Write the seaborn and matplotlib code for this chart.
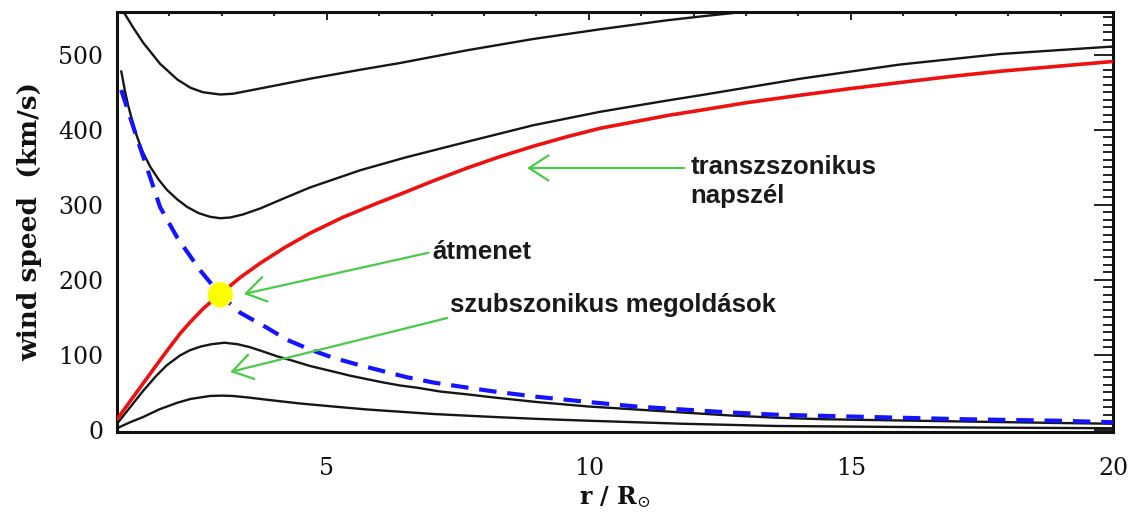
import numpy as np
import pandas as pd
import matplotlib
matplotlib.use("Agg")
import matplotlib.pyplot as plt
from matplotlib.ticker import MultipleLocator
import seaborn as sns

# ---- data (r in solar radii, v in km/s) ----
r_top = [1.10, 1.31, 1.50, 1.82, 2.15, 2.40, 2.64, 2.97, 3.21, 3.73, 4.68, 5.64,
         6.40, 7.68, 8.94, 10.22, 11.50, 12.13, 12.80, 13.10]
v_top = [560, 536, 516, 488, 467, 456, 450, 447, 448, 455, 468, 480,
         489, 506, 521, 534, 546, 551, 556, 558]

r_fast = [1.08, 1.10, 1.15, 1.21, 1.34, 1.48, 1.63, 1.80, 1.95, 2.15, 2.34, 2.55,
          2.77, 2.97, 3.16, 3.40, 3.73, 4.20, 4.68, 5.64, 6.50, 7.68, 8.94, 10.22,
          11.50, 12.13, 14.03, 15.94, 17.85, 20.0]
v_fast = [478, 471, 452, 433, 399, 372, 351, 333, 320, 307, 297, 289,
          284, 282, 283, 287, 295, 309, 323, 346, 363, 384, 406, 424,
          439, 446, 468, 487, 501, 511]

r_trans = [1.0, 1.25, 1.50, 1.75, 1.95, 2.20, 2.39, 2.65, 2.97, 3.35, 3.73, 4.20,
           4.68, 5.30, 5.96, 6.40, 7.04, 7.68, 8.30, 8.94, 9.60, 10.22, 10.90,
           11.50, 12.13, 13.00, 14.03, 15.00, 15.94, 16.90, 17.85, 19.00, 20.0]
v_trans = [14, 38, 62, 86, 105, 128, 143, 162, 181, 203, 222, 243,
           262, 283, 302, 314, 332, 349, 364, 378, 391, 402, 411,
           419, 426, 436, 446, 455, 463, 471, 478, 485, 491]

r_acc = [1.08, 1.38, 1.63, 1.82, 2.15, 2.58, 2.97, 3.35, 3.86, 4.24, 4.68, 5.12,
         5.58, 6.08, 6.53, 7.03, 7.60, 8.19, 9.00, 9.99, 10.90, 11.78, 12.70,
         13.58, 15.35, 17.15, 18.94, 20.0]
v_acc = [453, 389, 337, 297, 256, 213, 180, 156, 136, 120, 107, 96,
         87, 78, 70, 63, 57, 51, 44, 37, 31, 27, 23,
         20, 17, 14, 12, 10]

r_sub1 = [1.0, 1.25, 1.50, 1.75, 1.95, 2.20, 2.39, 2.60, 2.80, 3.05, 3.30, 3.54,
          3.80, 4.05, 4.40, 4.68, 5.10, 5.45, 5.80, 6.08, 6.40, 6.73, 7.16, 7.70,
          8.19, 9.00, 9.99, 10.90, 11.78, 12.70, 13.58, 14.50, 15.35, 17.15,
          18.94, 20.0]
v_sub1 = [8, 30, 52, 72, 86, 99, 106, 111, 114, 116, 114, 110,
          104, 98, 91, 85, 78, 72, 67, 63, 59, 56, 51, 47,
          43, 37, 31, 27, 23, 19, 16, 14, 13, 11,
          9, 8]

r_sub2 = [1.0, 1.25, 1.50, 1.80, 2.15, 2.40, 2.77, 3.00, 3.21, 3.50, 3.86, 4.49,
          5.12, 5.77, 6.40, 7.03, 7.60, 8.19, 9.00, 9.99, 11.78, 13.58, 15.35,
          17.15, 20.0]
v_sub2 = [2, 10, 17, 27, 36, 41, 45, 45.5, 45, 43, 40, 35,
          31, 27, 24, 21, 19, 17, 14.5, 12, 8, 5, 4,
          3, 2]

crit_r = [2.97]
crit_v = [180]

x_label = "r / R$_{\\odot}$"
y_label = "wind speed  (km/s)"
lbl_trans = "transzszonikus\nnapszél"
lbl_crit = "átmenet"
lbl_sub = "szubszonikus megoldások"

# ---- style ----
sns.set_style("white")
plt.rcParams["font.family"] = ["DejaVu Serif"]
plt.rcParams["mathtext.fontset"] = "dejavuserif"

fig = plt.figure(figsize=(11.34, 5.15), dpi=100)
ax = fig.add_axes([0.1032, 0.1612, 0.8783, 0.8155])

black = "#161616"
common = dict(ax=ax, estimator=None, sort=False, legend=False)
for rr, vv in [(r_top, v_top), (r_fast, v_fast), (r_sub1, v_sub1), (r_sub2, v_sub2)]:
    sns.lineplot(x=rr, y=vv, color=black, lw=1.7, zorder=2, **common)

sns.lineplot(x=r_acc, y=v_acc, color="#1414ff", lw=3.0, zorder=3, **common)
ax.lines[-1].set_dashes((4.2, 2.6))
sns.lineplot(x=r_trans, y=v_trans, color="#ee1111", lw=2.6, zorder=4, **common)
for ln in ax.lines:
    ln.set_solid_joinstyle("round")
    ln.set_solid_capstyle("round")
sns.scatterplot(x=crit_r, y=crit_v, color="#ffff00", s=330, edgecolor="none",
                zorder=5, ax=ax, legend=False)

ax.set_xlim(1, 20)
ax.set_ylim(-3, 557)

ax.xaxis.set_major_locator(MultipleLocator(5))
ax.xaxis.set_minor_locator(MultipleLocator(1))
ax.yaxis.set_major_locator(MultipleLocator(100))
ax.yaxis.set_minor_locator(MultipleLocator(10))

ax.tick_params(axis="both", which="both", direction="in", top=True, right=True,
               colors="#111111", width=1.3)
ax.tick_params(axis="y", which="major", length=14, pad=10, labelsize=17)
ax.tick_params(axis="y", which="minor", length=7)
ax.tick_params(axis="x", which="major", length=6, pad=18, labelsize=17)
ax.tick_params(axis="x", which="minor", length=3)

for s in ax.spines.values():
    s.set_linewidth(2.2)
    s.set_color("#111111")

ax.set_xlabel(x_label, fontsize=17, fontweight="bold", labelpad=3, color="#111111")
ax.set_ylabel(y_label, fontsize=19, fontweight="bold", labelpad=11, color="#111111")

# ---- annotations ----
tkw = dict(fontfamily="Liberation Sans", fontweight="bold", fontsize=18.5,
           color="#1a1a1a", va="center", ha="left")
ax.text(11.94, 331, lbl_trans, linespacing=1.25, **tkw)
ax.text(7.01, 237, lbl_crit, **tkw)
ax.text(7.36, 166, lbl_sub, **tkw)

akw = dict(arrowstyle="->,head_length=0.7,head_width=0.45", color="#48cc48",
           lw=1.6, mutation_scale=20, shrinkA=0, shrinkB=0)
ax.annotate("", xy=(8.82, 349), xytext=(11.82, 349), arrowprops=akw)
ax.annotate("", xy=(3.42, 181), xytext=(6.94, 236), arrowprops=akw)
ax.annotate("", xy=(3.16, 77), xytext=(7.30, 149), arrowprops=akw)

fig.savefig("out.png", dpi=100)
